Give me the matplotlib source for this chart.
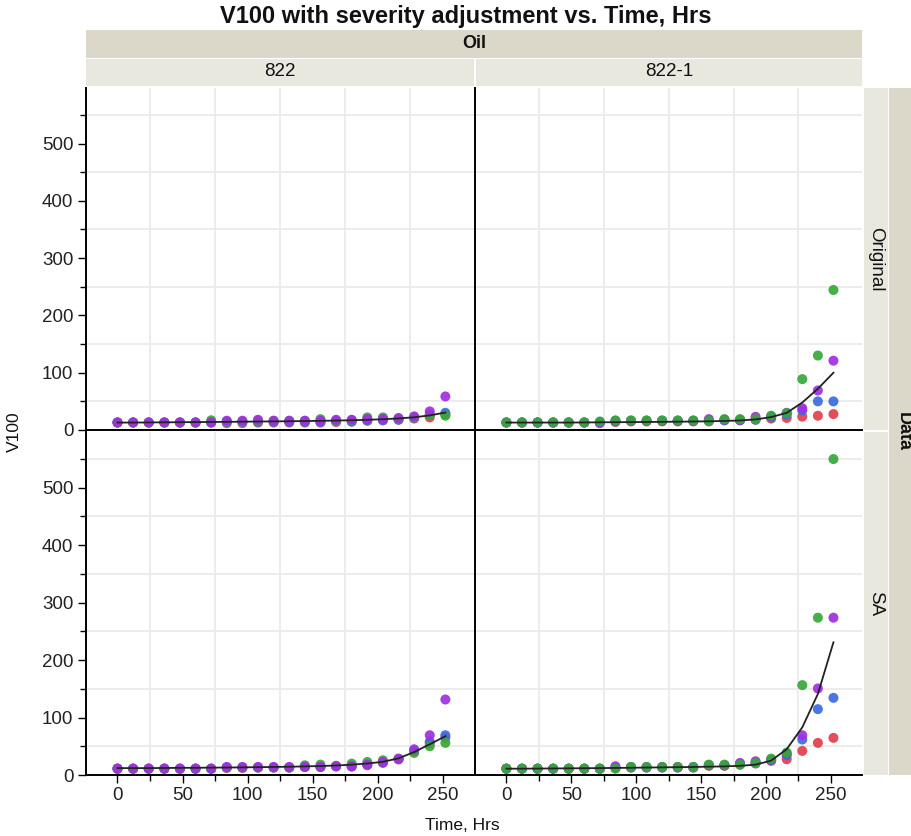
import matplotlib
matplotlib.use("Agg")
import matplotlib.pyplot as plt
from matplotlib.patches import Rectangle
from matplotlib.ticker import MultipleLocator

plt.rcParams['font.family'] = ['Liberation Sans', 'DejaVu Sans']

# ---------------- data ----------------
time_hrs = [0, 12, 24, 36, 48, 60, 72, 84, 96, 108, 120, 132, 144, 156, 168, 180, 192, 204, 216, 228, 240, 252]
oils = ["822", "822-1"]
data_kinds = ["Original", "SA"]

# 822 / Original
o822_red    = [13, 13, 13, 13, 13, 13, 13, 12, 12, 13, 13, 13, 13, 13, 14, 15, 16, 17, 18, 20, 22, 27]
o822_blue   = [13, 13, 13, 13, 13, 13, 13, 14, 14, 14, 14, 14, 14, 14, 15, 14.5, 17, 17, 18, 21, 27, 30]
o822_green  = [13, 13, 13, 13, 13, 13, 17, 15, 15, 16, 16, 16, 16, 19, 16, 17, 22, 22, 20, 22, 26, 25]
o822_purple = [13.3, 13.3, 13.3, 13.3, 13.3, 13.3, 13.3, 16.2, 16.2, 17.9, 16.2, 16.2, 16.2, 16.2, 17.9, 17.9, 19.1, 19.1, 20.9, 23.8, 32.5, 58.6]
o822_fit    = [13, 13, 13.2, 13.4, 13.6, 13.8, 14, 14.2, 14.5, 14.8, 15, 15.3, 15.6, 16, 16.5, 17, 17.8, 18.8, 20.2, 22.2, 25.5, 30.5]

# 822-1 / Original
o8221_red    = [13, 13, 13, 13, 13, 13, 12, 14, 15, 15, 15, 15, 15, 15, 17, 17, 18, 20, 21, 23.3, 24.9, 27.8]
o8221_blue   = [13, 13, 13, 13, 13, 13, 13, 15, 16, 16, 16, 16, 16, 16, 17, 17, 18, 22, 27, 34, 50, 50]
o8221_purple = [13, 13, 13, 13, 13, 13, 13, 16, 16, 16, 16, 16, 16, 19, 18, 18, 23, 24, 30, 38, 69, 121]
o8221_green  = [13.3, 13.3, 13.3, 13.3, 13.3, 13.3, 14.9, 16.8, 16.8, 16.8, 16.8, 16.8, 16.8, 16.2, 19, 19, 19, 24.9, 29.6, 88.8, 130, 244.4]
o8221_fit    = [13, 13, 13, 13, 13, 13.2, 13.4, 13.6, 13.8, 14, 14.2, 14.5, 14.8, 15.2, 15.8, 16.6, 18.5, 22.5, 30, 48, 72, 100]

# 822 / SA
s822_red    = [11, 11, 11, 11, 11, 11, 11, 12.2, 12.2, 13, 13, 13, 14, 14, 15, 15, 17, 21, 27, 41, 55, 65]
s822_blue   = [11, 11, 11, 11, 11, 11, 11, 13, 13, 13, 13, 13, 14, 14, 15, 15, 18, 22, 28, 42, 58.1, 69.2]
s822_green  = [11, 11, 11, 11, 11, 11, 11, 13, 13, 13, 13, 13, 16.9, 18.1, 16, 19.8, 22.7, 25.6, 28, 38.4, 50, 55.9]
s822_purple = [11.1, 11.1, 11.1, 11.1, 11.1, 11.1, 11.1, 14, 14, 14, 14, 14, 14, 14, 15.2, 15.2, 18.1, 22.7, 28.5, 44.8, 69.2, 131.4]
s822_fit    = [12, 12, 12, 12.2, 12.4, 12.6, 12.8, 13, 13.3, 13.6, 14, 14.4, 15, 15.6, 16.5, 18, 20, 23, 29, 40, 53.5, 67.5]

# 822-1 / SA
s8221_red    = [11, 11, 11, 11, 11, 11, 11, 12, 13, 13, 13, 13, 13, 16, 16, 18, 20, 24.5, 27.4, 41.9, 55.9, 64.6]
s8221_blue   = [11, 11, 11, 11, 11, 11, 11, 13, 13, 13, 13, 13, 13, 17, 17, 19, 21, 26, 34.3, 61.7, 114.6, 134.3]
s8221_purple = [11, 11, 11, 11, 11, 11, 11, 15.2, 14, 14, 14, 14, 14, 17, 17, 21, 23.9, 27, 37.3, 69.2, 150.6, 273.8]
s8221_green  = [11.1, 11.1, 11.1, 11.1, 11.1, 11.1, 11.1, 11.1, 14, 14, 14, 14, 14, 18.1, 18.1, 18.1, 21, 28.5, 39, 156.4, 273.8, 549.9]
s8221_fit    = [11, 11, 11.2, 11.4, 11.6, 11.8, 12, 12.3, 12.6, 13, 13.3, 13.6, 14, 14.5, 15, 16, 18, 25, 45, 83, 141, 231]

x_ticks = [0, 50, 100, 150, 200, 250]
y_ticks = [0, 100, 200, 300, 400, 500]

# ---------------- styling ----------------
RED, BLUE, GREEN, PURPLE = '#E0404C', '#3B6BE0', '#36A83A', '#A02FE0'
STRIP_DARK = '#DBD8C9'
STRIP_LIGHT = '#E9E8DF'
W, H = 912, 836

panels = {
    (0, 0): dict(series=[(o822_red, RED), (o822_blue, BLUE), (o822_green, GREEN), (o822_purple, PURPLE)], fit=o822_fit),
    (0, 1): dict(series=[(o8221_red, RED), (o8221_blue, BLUE), (o8221_purple, PURPLE), (o8221_green, GREEN)], fit=o8221_fit),
    (1, 0): dict(series=[(s822_red, RED), (s822_blue, BLUE), (s822_green, GREEN), (s822_purple, PURPLE)], fit=s822_fit),
    (1, 1): dict(series=[(s8221_red, RED), (s8221_blue, BLUE), (s8221_purple, PURPLE), (s8221_green, GREEN)], fit=s8221_fit),
}

fig = plt.figure(figsize=(W / 100, H / 100), dpi=100)


def rect(x0, y0, x1, y1):
    return [x0 / W, 1 - y1 / H, (x1 - x0) / W, (y1 - y0) / H]


col_px = [(86, 474), (475, 862)]
row_px = [(88, 430), (432, 775)]

for (r, c), spec in panels.items():
    x0, x1 = col_px[c]
    y0, y1 = row_px[r]
    ax = fig.add_axes(rect(x0, y0, x1, y1))
    ax.set_xlim(-24.2, 274)
    ax.set_ylim(0, 597)
    ax.xaxis.set_major_locator(MultipleLocator(50))
    ax.xaxis.set_minor_locator(MultipleLocator(25))
    ax.yaxis.set_major_locator(MultipleLocator(100))
    ax.yaxis.set_minor_locator(MultipleLocator(50))
    ax.set_xticks(x_ticks)
    ax.set_yticks(y_ticks)
    ax.grid(False)
    for v in [25, 75, 125, 175, 225]:
        ax.axvline(v, color='#EBEBEB', lw=1.3, zorder=0)
    for v in [50, 150, 250, 350, 450, 550]:
        ax.axhline(v, color='#EBEBEB', lw=1.3, zorder=0)
    for sp in ['top', 'right']:
        ax.spines[sp].set_visible(False)
    for sp in ['left', 'bottom']:
        ax.spines[sp].set_color('black')
        ax.spines[sp].set_linewidth(1.4)
    ax.tick_params(axis='both', which='major', length=6, width=1, color='black',
                   labelsize=13.5, labelcolor='#222222', direction='out', pad=3)
    ax.tick_params(axis='both', which='minor', length=4, width=1, color='black', direction='out')
    if r == 0:
        ax.tick_params(axis='x', which='both', bottom=False, labelbottom=False)
    if c == 1:
        ax.tick_params(axis='y', which='both', left=False, labelleft=False)
    for vals, col in spec['series']:
        ax.scatter(time_hrs, vals, s=52, color=col, alpha=0.92, edgecolors='none', zorder=3)
    ax.plot(time_hrs, spec['fit'], color='#222222', lw=1.3, zorder=4)

# ---------------- strips ----------------
def strip(x0, y0, x1, y1, color):
    fig.patches.append(Rectangle((x0 / W, 1 - y1 / H), (x1 - x0) / W, (y1 - y0) / H,
                                 transform=fig.transFigure, facecolor=color, edgecolor='none', zorder=0))

strip(86, 30, 862, 58, STRIP_DARK)
strip(86, 59, 474, 86, STRIP_LIGHT)
strip(476, 59, 862, 86, STRIP_LIGHT)
strip(864, 88, 888, 430, STRIP_LIGHT)
strip(864, 432, 888, 775, STRIP_LIGHT)
strip(889, 88, 912, 775, STRIP_DARK)

def ftext(x, y, s, **kw):
    fig.text(x / W, 1 - y / H, s, ha='center', va='center', color='#111111', **kw)

ftext(466, 16, "V100 with severity adjustment vs. Time, Hrs", fontsize=17, fontweight='bold')
ftext(474, 44, "Oil", fontsize=13, fontweight='bold')
ftext(280, 72, oils[0], fontsize=13.5)
ftext(669, 72, oils[1], fontsize=13.5)
ftext(876, 259, data_kinds[0], fontsize=13.5, rotation=-90)
ftext(876, 604, data_kinds[1], fontsize=13.5, rotation=-90)
ftext(903, 432, "Data", fontsize=13, fontweight='bold', rotation=-90)
ftext(14, 432, "V100", fontsize=12.5, rotation=90)
ftext(462, 825, "Time, Hrs", fontsize=12.5)

fig.savefig("out.png", dpi=100)
